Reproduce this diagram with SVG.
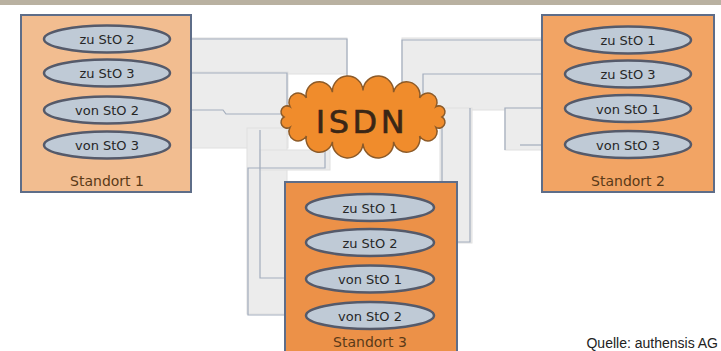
<svg xmlns="http://www.w3.org/2000/svg" width="721" height="351" viewBox="0 0 721 351">
<style>
.band{fill:#ececec;stroke:#e0e0e0;stroke-width:1}
.wire{fill:none;stroke:#a3adbd;stroke-width:1.2}
.box{stroke:#5e6d88;stroke-width:2}
.ell{fill:#bfcad6;stroke:#555a6a;stroke-width:2.5}
.lbl{font-family:"DejaVu Sans",sans-serif;font-size:13px;fill:#262626;text-anchor:middle}
.site{font-family:"DejaVu Sans",sans-serif;font-size:14px;fill:#5a3a18;text-anchor:middle}
</style>
<rect x="0" y="0" width="721" height="351" fill="#ffffff"/>
<rect x="0" y="0" width="721" height="5" fill="#b9b1a1"/>
<g id="connectors">
  <rect class="band" x="191" y="38" width="156" height="36"/>
  <rect class="band" x="191" y="72" width="97" height="76"/>
  <rect class="band" x="247" y="128" width="40" height="186"/>
  <rect class="band" x="260" y="150" width="70" height="20"/>
  <rect class="band" x="402" y="38" width="140" height="72"/>
  <rect class="band" x="505" y="108" width="37" height="42"/>
  <rect class="band" x="440" y="108" width="32" height="135"/>
  <path class="wire" d="M171,39 H347 V80"/>
  <path class="wire" d="M170,73 H287 V112"/>
  <path class="wire" d="M170,110 H223 L226,114 H282"/>
  <path class="wire" d="M170,145 H191"/>
  <path class="wire" d="M260,130 V278 H306"/>
  <path class="wire" d="M325,150 V168 H248 V315 H306"/>
  <path class="wire" d="M564,40 H402 V92"/>
  <path class="wire" d="M565,74 H423 V100"/>
  <path class="wire" d="M565,108 H505 V150"/>
  <path class="wire" d="M542,145 H520"/>
  <path class="wire" d="M442,120 V182"/>
  <path class="wire" d="M470,108 V242 H434"/>
</g>
<g id="isdn">
  <path d="M442,117 A1,1 0 0 1 436,127.3 A1,1 0 0 1 419.6,136 A1,1 0 0 1 393.6,141.8 A1,1 0 0 1 363,143.5 A1,1 0 0 1 332.4,141.8 A1,1 0 0 1 306.4,136 A1,1 0 0 1 290,127.3 A1,1 0 0 1 284,117 A1,1 0 0 1 290,106.7 A1,1 0 0 1 306.4,98 A1,1 0 0 1 332.4,92.2 A1,1 0 0 1 363,90.5 A1,1 0 0 1 393.6,92.2 A1,1 0 0 1 419.6,98 A1,1 0 0 1 436,106.7 A1,1 0 0 1 442,117 Z" fill="#f08c2c" stroke="#8c5a28" stroke-width="1.5"/>
  <text x="362" y="133" font-family="DejaVu Sans, sans-serif" font-size="32" letter-spacing="3.5" fill="#3a2616" stroke="#3a2616" stroke-width="0.6" text-anchor="middle">ISDN</text>
</g>
<g id="standort1">
  <rect class="box" x="21" y="15" width="170" height="177" fill="#f2bd90"/>
  <ellipse class="ell" cx="107" cy="39" rx="63" ry="13.5"/>
  <text class="lbl" x="107" y="44">zu StO 2</text>
  <ellipse class="ell" cx="107" cy="73" rx="63" ry="13.5"/>
  <text class="lbl" x="107" y="78">zu StO 3</text>
  <ellipse class="ell" cx="107" cy="110" rx="63" ry="13.5"/>
  <text class="lbl" x="107" y="115">von StO 2</text>
  <ellipse class="ell" cx="107" cy="145" rx="63" ry="13.5"/>
  <text class="lbl" x="107" y="150">von StO 3</text>
  <text class="site" x="107" y="186">Standort 1</text>
</g>
<g id="standort2">
  <rect class="box" x="542" y="15" width="172" height="177" fill="#f2a464"/>
  <ellipse class="ell" cx="628" cy="40" rx="63" ry="13.5"/>
  <text class="lbl" x="628" y="45">zu StO 1</text>
  <ellipse class="ell" cx="628" cy="74" rx="63" ry="13.5"/>
  <text class="lbl" x="628" y="79">zu StO 3</text>
  <ellipse class="ell" cx="628" cy="108.5" rx="63" ry="13.5"/>
  <text class="lbl" x="628" y="113.5">von StO 1</text>
  <ellipse class="ell" cx="628" cy="144.5" rx="63" ry="13.5"/>
  <text class="lbl" x="628" y="149.5">von StO 3</text>
  <text class="site" x="628" y="186">Standort 2</text>
</g>
<g id="standort3">
  <rect class="box" x="285" y="182" width="172" height="180" fill="#ec9148"/>
  <ellipse class="ell" cx="370" cy="207.5" rx="64" ry="13.5"/>
  <text class="lbl" x="370" y="212.5">zu StO 1</text>
  <ellipse class="ell" cx="370" cy="242.5" rx="64" ry="13.5"/>
  <text class="lbl" x="370" y="247.5">zu StO 2</text>
  <ellipse class="ell" cx="370" cy="279" rx="64" ry="13.5"/>
  <text class="lbl" x="370" y="284">von StO 1</text>
  <ellipse class="ell" cx="370" cy="315.5" rx="64" ry="13.5"/>
  <text class="lbl" x="370" y="320.5">von StO 2</text>
  <text class="site" x="370" y="347">Standort 3</text>
</g>
<text x="718" y="348" font-family="Liberation Sans, sans-serif" font-size="14" fill="#222222" text-anchor="end">Quelle: authensis AG</text>
</svg>
